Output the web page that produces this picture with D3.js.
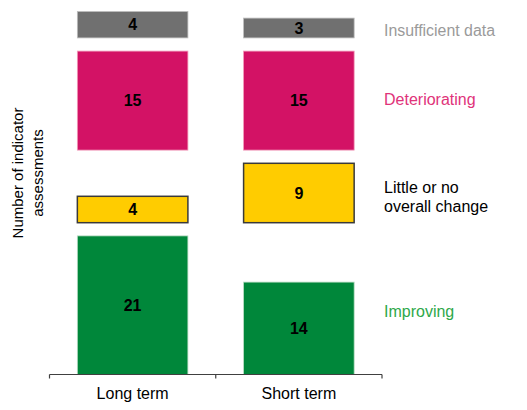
<!DOCTYPE html>
<html><head><meta charset="utf-8">
<script src="https://cdn.jsdelivr.net/npm/d3@7"></script>
<style>body{margin:0;background:#fff}svg{display:block}text{font-family:"Liberation Sans",Arial,sans-serif}</style>
</head><body><svg id="c" width="527" height="410"></svg>
<script>
const periods = ["Long term", "Short term"];
const categories = ["Improving", "Little or no overall change", "Deteriorating", "Insufficient data"];
const legendLines = [["Improving"], ["Little or no", "overall change"], ["Deteriorating"], ["Insufficient data"]];
const longTerm = [21, 4, 15, 4];
const shortTerm = [14, 9, 15, 3];
const fills = ["#00873a", "#ffcc00", "#d31265", "#707070"];
const strokes = ["#b9dcc4", "#3a3a3a", "#f29ab9", "#bdbdbd"];
const labelColors = ["#2ea84a", "#000000", "#e0337a", "#9a9a9a"];
const gapUnits = 2;

const svg = d3.select("#c");
const series = [longTerm, shortTerm];
const bases = [];
let acc = 0;
categories.forEach((c, i) => {
  bases.push(acc);
  acc += d3.max(series, s => s[i]) + gapUnits;
});
const total = acc - gapUnits;

const y = d3.scaleLinear().domain([0, total]).range([374.5, 11.5]);
const x = d3.scaleBand().domain(periods).range([49.5, 382]).padding(0);
const barW = x.bandwidth() * 0.665;

periods.forEach((p, pi) => {
  const g = svg.append("g");
  const cx = x(p) + x.bandwidth() / 2;
  g.selectAll("rect").data(series[pi]).join("rect")
    .attr("x", cx - barW / 2)
    .attr("width", barW)
    .attr("y", (d, i) => y(bases[i] + d))
    .attr("height", (d, i) => y(bases[i]) - y(bases[i] + d))
    .attr("fill", (d, i) => fills[i])
    .attr("stroke", (d, i) => strokes[i])
    .attr("stroke-width", (d, i) => i === 1 ? 1.5 : 0.8);
  g.selectAll("text").data(series[pi]).join("text")
    .attr("x", cx)
    .attr("y", (d, i) => y(bases[i] + d / 2))
    .attr("dy", "0.36em")
    .attr("text-anchor", "middle")
    .attr("font-size", 16)
    .attr("font-weight", "bold")
    .attr("fill", "#000")
    .text(d => d);
});

// x axis
const ax = svg.append("g").attr("transform", "translate(0,374.5)");
ax.append("line").attr("x1", 49.5).attr("x2", 382).attr("stroke", "#404040").attr("stroke-width", 1.2);
const bounds = [x(periods[0]), x(periods[1]), x(periods[1]) + x.bandwidth()];
ax.selectAll(".tk").data(bounds).join("line")
  .attr("x1", d => d).attr("x2", d => d).attr("y1", 0).attr("y2", 4)
  .attr("stroke", "#404040").attr("stroke-width", 1.2);
ax.selectAll(".lb").data(periods).join("text")
  .attr("x", d => x(d) + x.bandwidth() / 2)
  .attr("y", 24)
  .attr("text-anchor", "middle")
  .attr("font-size", 16)
  .attr("fill", "#000")
  .text(d => d);

// legend labels at right
const legendY = [311, 196.5, 99.5, 30];
legendLines.forEach((lines, i) => {
  const t = svg.append("text")
    .attr("x", 384)
    .attr("font-size", 16)
    .attr("fill", labelColors[i]);
  lines.forEach((ln, j) => {
    const ts = t.append("tspan").attr("x", 384)
      .attr("y", legendY[i] + (j - (lines.length - 1) / 2) * 19)
      .attr("dy", "0.36em")
      .text(ln);
    if (i === 3) ts.attr("textLength", 111).attr("lengthAdjust", "spacingAndGlyphs");
  });
});

// y axis title
const yt = svg.append("text")
  .attr("transform", "translate(28,173) rotate(-90)")
  .attr("text-anchor", "middle")
  .attr("font-size", 15)
  .attr("fill", "#000");
yt.append("tspan").attr("x", 0).attr("y", -10).attr("dy", "0.36em").text("Number of indicator");
yt.append("tspan").attr("x", 0).attr("y", 10).attr("dy", "0.36em").text("assessments");
</script></body></html>
